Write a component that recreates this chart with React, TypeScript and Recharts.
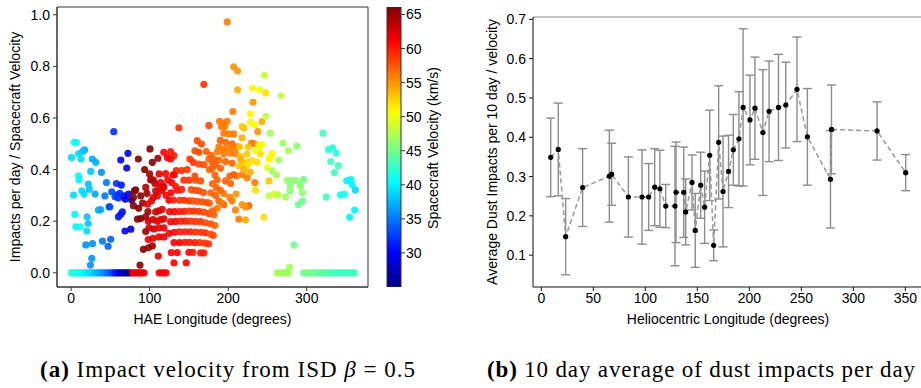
import React from "react";
import {
  ScatterChart,
  Scatter,
  ComposedChart,
  Line,
  BarChart,
  Bar,
  XAxis,
  YAxis,
  ErrorBar,
  ReferenceArea,
  ReferenceLine,
} from "recharts";

// ---- (a) impact rate vs HAE longitude, coloured by spacecraft velocity ----
// each point: [longitude, impacts per day / velocity, velocity km/s]
const zeroRow = [
  [0, 0, 42], [2.5, 0, 42], [5, 0, 42], [7.5, 0, 42], [10, 0, 41], [12.5, 0, 41], [15, 0, 41],
  [17.5, 0, 40], [20, 0, 40], [22.5, 0, 39], [25, 0, 39], [27.5, 0, 39], [30, 0, 38],
  [32.5, 0, 38], [35, 0, 37], [37.5, 0, 37], [40, 0, 36], [42.5, 0, 36], [45, 0, 35],
  [47.5, 0, 35], [50, 0, 34], [52.5, 0, 33], [55, 0, 32], [57.5, 0, 31], [60, 0, 30],
  [62.5, 0, 28], [65, 0, 27], [67.5, 0, 27], [70, 0, 26], [72.5, 0, 26], [75, 0, 25.5],
  [78, 0, 62], [80.5, 0, 62], [83, 0, 62], [85.5, 0, 62], [88, 0, 62], [90.5, 0, 62], [93, 0, 62],
  [112, 0, 61], [115, 0, 61], [118, 0, 61], [121, 0, 61],
  [262, 0, 47], [265, 0, 47], [268, 0, 47], [271, 0, 47], [274, 0, 47], [277, 0, 47],
  [296, 0, 45], [299, 0, 45], [302, 0, 45], [305, 0, 45], [308, 0, 45], [311, 0, 45],
  [314, 0, 44.5], [317, 0, 44.5], [320, 0, 44], [323, 0, 44], [326, 0, 44], [329, 0, 43.5],
  [332, 0, 43.5], [335, 0, 43.5], [338, 0, 43], [341, 0, 43], [344, 0, 43], [347, 0, 43],
  [350, 0, 43], [353, 0, 43], [356, 0, 43], [359, 0, 43], [361, 0, 43],
];

const cyanGroup = [
  [0.5, 0.447, 39], [3.8, 0.506, 41], [6.8, 0.506, 41], [9.4, 0.461, 39], [12.7, 0.441, 39],
  [17, 0.476, 37], [27, 0.441, 37], [31.4, 0.428, 37], [25, 0.393, 38], [38.6, 0.389, 36],
  [45, 0.35, 35], [9.4, 0.376, 41], [10, 0.36, 40], [3, 0.301, 39], [13.6, 0.318, 39],
  [16.5, 0.305, 39], [22, 0.344, 38], [23, 0.324, 38], [30.5, 0.305, 37], [43, 0.298, 35],
  [4.7, 0.227, 40], [20.3, 0.217, 38], [21.6, 0.191, 38], [6, 0.178, 40], [11.4, 0.178, 41],
  [20, 0.162, 39], [34.8, 0.243, 37], [37.7, 0.245, 37], [48.3, 0.256, 34], [18.7, 0.108, 36],
  [27.2, 0.113, 36], [39.9, 0.123, 35], [47, 0.103, 34], [50.4, 0.13, 34], [26.3, 0.056, 36],
  [24.6, 0.03, 36], [14.5, 0.47, 38],
];

const blueGroup = [
  [54.3, 0.547, 32], [72.4, 0.463, 29], [63.2, 0.437, 30], [70.8, 0.406, 29], [57.7, 0.346, 32],
  [64, 0.34, 31], [51.7, 0.314, 33], [56, 0.295, 33], [60.2, 0.29, 32], [66.6, 0.298, 30],
  [73, 0.305, 29], [77.1, 0.282, 27], [49.2, 0.256, 33], [65.3, 0.236, 31], [60.2, 0.217, 31],
  [63.2, 0.227, 31], [68.6, 0.162, 30], [75.9, 0.169, 28], [58.5, 0.302, 33], [62, 0.308, 32],
  [69, 0.285, 28],
];

const darkRedGroup = [
  [100.4, 0.48, 66], [85.6, 0.441, 66], [103.4, 0.428, 66], [110.5, 0.444, 65], [93.6, 0.4, 66],
  [101.3, 0.36, 65], [82.2, 0.321, 66], [88.6, 0.298, 66], [79.3, 0.26, 66], [84.4, 0.208, 66],
  [88.6, 0.21, 66], [95, 0.217, 65], [97.8, 0.237, 65], [106.7, 0.346, 64], [92, 0.091, 66],
  [98.3, 0.097, 65], [103.4, 0.104, 65], [87.7, 0.03, 66], [79.3, 0.292, 66], [94.9, 0.331, 64],
  [99.9, 0.383, 65], [104.6, 0.36, 64], [91, 0.27, 65], [86, 0.25, 66], [95, 0.16, 65],
  [80.5, 0.318, 66], [96.5, 0.308, 65],
];

const redGroup = [
  [104.6, 0.292, 62], [109.7, 0.298, 62], [115.2, 0.318, 62], [118.2, 0.331, 62], [97.4, 0.266, 62],
  [102.5, 0.279, 62], [107.6, 0.236, 63], [111.8, 0.24, 63], [116, 0.246, 62], [98.3, 0.2, 63],
  [104.2, 0.206, 63], [109.7, 0.2, 62], [114, 0.206, 62], [118.2, 0.209, 62], [99.1, 0.174, 63],
  [105.4, 0.17, 63], [111.8, 0.174, 62], [118.2, 0.174, 62], [98.3, 0.129, 62], [104.2, 0.134, 62],
  [111.8, 0.139, 62], [118.2, 0.139, 62], [111, 0.065, 62], [107.6, 0.318, 63], [112.7, 0.327, 62],
  [116.9, 0.337, 62], [122.4, 0.447, 61], [126.7, 0.441, 61], [126.7, 0.47, 60], [130.9, 0.454, 60],
  [120.3, 0.384, 61], [129.6, 0.38, 60], [133.9, 0.396, 60], [124.6, 0.281, 61], [121, 0.3, 61],
  [127, 0.31, 61], [123, 0.36, 61], [128, 0.35, 61], [133, 0.335, 60], [118, 0.467, 61],
  [131, 0.379, 61], [112, 0.383, 62], [114, 0.35, 62],
];

const arcGroup = [
  [125.4, 0.237, 61], [131.8, 0.237, 61], [138.1, 0.237, 60], [144, 0.238, 60], [150.4, 0.239, 59],
  [156.3, 0.239, 59], [162.7, 0.238, 59], [169, 0.235, 58], [175.4, 0.23, 58], [181.8, 0.225, 57],
  [126.7, 0.198, 61], [133, 0.199, 61], [139.4, 0.2, 60], [145.8, 0.2, 60], [152.1, 0.2, 59],
  [158.4, 0.199, 59], [164.8, 0.198, 59], [171.1, 0.194, 58], [177.5, 0.19, 58], [183, 0.184, 57],
  [124.6, 0.153, 61], [131.4, 0.157, 61], [138.1, 0.159, 60], [144.9, 0.159, 60], [151.7, 0.159, 60],
  [158.4, 0.158, 59], [165.2, 0.157, 59], [171.1, 0.155, 59], [177.5, 0.15, 58], [181, 0.145, 58],
  [130.9, 0.117, 61], [138.1, 0.117, 61], [144.9, 0.118, 60], [150.8, 0.118, 60], [157.6, 0.117, 60],
  [163.5, 0.117, 59], [170, 0.115, 59], [175, 0.112, 59],
  [127.5, 0.078, 61], [135.1, 0.078, 61], [150, 0.079, 61], [155, 0.079, 60], [164.8, 0.077, 60],
  [169, 0.077, 60], [130.9, 0.039, 61], [146.6, 0.039, 61],
  [138, 0.281, 59], [144, 0.281, 59], [150, 0.279, 59], [155, 0.279, 58], [160.6, 0.277, 58],
  [166.9, 0.275, 58], [173.3, 0.272, 58], [130, 0.282, 60],
  [135.1, 0.32, 60], [140.7, 0.323, 60], [152.9, 0.322, 58], [158.4, 0.32, 58], [162.7, 0.318, 58],
  [168.6, 0.311, 58], [143.6, 0.359, 59], [150, 0.359, 59], [158.4, 0.359, 58], [164.8, 0.356, 58],
  [157.6, 0.375, 58], [140.7, 0.396, 59], [147.8, 0.4, 59], [162.7, 0.421, 58], [169, 0.419, 58],
  [175.4, 0.441, 57], [179.6, 0.428, 57], [151.2, 0.441, 59], [155.5, 0.428, 59], [157.6, 0.473, 58],
  [162.7, 0.467, 58], [160.6, 0.512, 58], [166, 0.499, 58], [137.2, 0.562, 59], [175.4, 0.571, 58],
];

const orangeGroup = [
  [198.7, 0.972, 56], [207, 0.798, 55], [212, 0.782, 55], [169, 0.73, 59], [212, 0.709, 54],
  [205.9, 0.625, 56], [189, 0.587, 56], [193, 0.58, 56], [198.6, 0.587, 56], [195.8, 0.567, 56],
  [191.5, 0.567, 56], [217.8, 0.567, 53], [220, 0.561, 53], [243, 0.586, 54], [237.6, 0.547, 55],
  [231.7, 0.661, 55], [194.4, 0.541, 56], [200.7, 0.538, 56], [207, 0.538, 56], [217.8, 0.523, 54],
  [190, 0.513, 57], [196.6, 0.506, 57], [205, 0.5, 57], [188.1, 0.488, 56], [192.3, 0.478, 56],
  [198.7, 0.482, 56], [206.3, 0.488, 56], [211.3, 0.488, 56], [229.6, 0.503, 56], [233.4, 0.5, 56],
  [186, 0.469, 56], [194.5, 0.46, 56], [203, 0.464, 56], [209.3, 0.462, 56], [188, 0.437, 57],
  [196.6, 0.431, 57], [205, 0.425, 57], [183.9, 0.418, 57], [190.2, 0.405, 57], [179.6, 0.405, 57],
  [224.1, 0.368, 56], [217.7, 0.381, 56], [210.6, 0.375, 56], [202, 0.375, 57], [207, 0.381, 57],
  [196.6, 0.356, 57], [203, 0.346, 57], [194.5, 0.307, 56], [202, 0.292, 56], [210, 0.305, 55],
  [205, 0.279, 56], [209.3, 0.243, 56], [217.7, 0.264, 55], [226.2, 0.26, 57], [222, 0.254, 55],
  [213.5, 0.208, 56], [222, 0.205, 54], [188, 0.279, 57], [194.5, 0.264, 57], [233.8, 0.35, 56],
  [172, 0.47, 57], [178, 0.455, 57], [182, 0.44, 57], [176, 0.4, 57], [183, 0.38, 57],
  [186, 0.36, 57], [180, 0.345, 57], [185, 0.33, 57], [178, 0.31, 57], [184, 0.3, 57],
  [190, 0.32, 57], [176, 0.27, 57], [186, 0.25, 56], [180, 0.24, 57], [192, 0.27, 56],
];

const yellowGroup = [
  [231, 0.716, 51], [240, 0.709, 50], [248, 0.697, 52], [228.3, 0.616, 51], [228.3, 0.584, 51],
  [233.4, 0.574, 51], [214.8, 0.488, 53], [225.4, 0.488, 53], [238.9, 0.494, 51], [243, 0.497, 51],
  [215.6, 0.451, 53], [224, 0.46, 53], [234.7, 0.474, 50], [240.2, 0.488, 50], [241, 0.46, 52],
  [214, 0.414, 53], [219.8, 0.425, 53], [225.8, 0.428, 53], [224, 0.418, 52], [230.6, 0.435, 52],
  [237, 0.428, 52], [249.8, 0.408, 50], [251.9, 0.356, 53], [234.7, 0.321, 52], [245.3, 0.216, 52],
  [253.7, 0.45, 50], [252.4, 0.44, 51], [255.8, 0.462, 51], [220, 0.4, 54], [228, 0.39, 54],
  [216, 0.44, 54],
];

const greenGroup = [
  [246.3, 0.766, 48], [267.3, 0.686, 48], [248.2, 0.606, 48], [253.7, 0.541, 47], [269.5, 0.503, 47],
  [276.7, 0.474, 47], [287.3, 0.491, 46], [264.3, 0.437, 47], [255.9, 0.395, 47], [261.5, 0.379, 47],
  [275, 0.358, 47], [280, 0.356, 46], [285.8, 0.358, 46], [290.9, 0.349, 46], [296, 0.362, 45],
  [279, 0.336, 46], [292, 0.336, 46], [278.7, 0.317, 46], [294.4, 0.31, 46], [252, 0.298, 48],
  [258.4, 0.305, 49], [263.4, 0.302, 48], [273.2, 0.294, 47], [294.4, 0.279, 45], [289.3, 0.264, 45],
  [283.9, 0.108, 45], [278.3, 0.022, 47],
];

const aquaGroup = [
  [320.6, 0.541, 43], [327.8, 0.478, 42], [332.9, 0.484, 42], [337.6, 0.464, 42], [330.6, 0.431, 43],
  [340.3, 0.415, 43], [335.3, 0.388, 43], [350.9, 0.357, 40], [356.4, 0.361, 40], [361.9, 0.321, 39],
  [357.6, 0.342, 40], [342.8, 0.302, 41], [347.9, 0.305, 41], [324.8, 0.294, 43], [361, 0.243, 40],
  [354.6, 0.216, 40],
];

const haeTicks = [0, 100, 200, 300];
const rateTicks = [0, 0.2, 0.4, 0.6, 0.8, 1.0];
const velTicks = [30, 35, 40, 45, 50, 55, 60, 65];
const velRange = [25, 66.1];

// ---- (b) 10 day averages ----
const helioLon = [
  9, 16.3, 23.4, 39.7, 65.4, 67.6, 83.7, 96.8, 103.2, 109, 114, 119.6, 128.5, 129.5, 136.9, 138.8,
  144.9, 148, 153.2, 157, 161.9, 165.7, 170.5, 174.7, 180, 184.6, 190, 194, 200.6, 205.4, 213, 219,
  228, 235, 245.8, 255.8, 278, 279, 322.8, 350.3,
];
const avgImpacts = [
  0.349, 0.369, 0.147, 0.272, 0.301, 0.306, 0.248, 0.248, 0.248, 0.273, 0.269, 0.225, 0.225, 0.26,
  0.26, 0.21, 0.285, 0.163, 0.278, 0.222, 0.354, 0.125, 0.387, 0.262, 0.313, 0.368, 0.396, 0.476,
  0.444, 0.474, 0.412, 0.466, 0.476, 0.482, 0.522, 0.401, 0.293, 0.42, 0.416, 0.31,
];
const avgErr = [
  0.1, 0.118, 0.097, 0.099, 0.117, 0.079, 0.102, 0.12, 0.085, 0.098, 0.098, 0.055, 0.152, 0.128,
  0.115, 0.084, 0.07, 0.094, 0.084, 0.092, 0.115, 0.039, 0.144, 0.141, 0.092, 0.09, 0.12, 0.2,
  0.114, 0.13, 0.16, 0.128, 0.135, 0.109, 0.133, 0.123, 0.124, 0.113, 0.074, 0.046,
];
const helioTicks = [0, 50, 100, 150, 200, 250, 300, 350];
const avgTicks = [0.1, 0.2, 0.3, 0.4, 0.5, 0.6, 0.7];

// matplotlib jet, approximately
const clip = (a: number) => Math.max(0, Math.min(1, a));
function jetRgb(t: number) {
  const r = clip(1.5 - Math.abs(4 * t - 3));
  const g = clip(1.5 - Math.abs(4 * t - 2));
  const b = clip(1.5 - Math.abs(4 * t - 1));
  return `rgb(${Math.round(r * 255)},${Math.round(g * 255)},${Math.round(b * 255)})`;
}
const velColor = (v: number) => jetRgb((v - velRange[0]) / (velRange[1] - velRange[0]));

const scatterRows = [
  ...zeroRow, ...cyanGroup, ...blueGroup, ...darkRedGroup, ...redGroup,
  ...arcGroup, ...orangeGroup, ...yellowGroup, ...greenGroup, ...aquaGroup,
].map(([x, y, v]) => ({ x, y, v }));

const helioRows = helioLon.map((x, i) => ({ x, y: avgImpacts[i], err: avgErr[i] }));

const FONT = '"Liberation Sans", Arial, sans-serif';
const tickStyle = { fill: "#000", fontSize: 14, fontFamily: FONT };

const VelDot = (p: any) => (
  <circle cx={p.cx} cy={p.cy} r={3.6} fill={velColor(p.payload.v)} fillOpacity={0.9} />
);
const BlackDot = (p: any) => <circle cx={p.cx} cy={p.cy} r={2.6} fill="#000" />;

export default function App() {
  return (
    <div
      style={{
        position: "absolute",
        left: 0,
        top: 0,
        width: 921,
        height: 388,
        overflow: "hidden",
        background: "#fff",
      }}
    >
      <div style={{ position: "absolute", left: 0, top: 0 }}>
        <ScatterChart width={380} height={330} margin={{ top: 7, right: 12, left: 12, bottom: 13 }}>
          <XAxis
            type="number"
            dataKey="x"
            domain={[-18, 378]}
            ticks={haeTicks}
            allowDataOverflow
            height={30}
            tick={tickStyle}
            tickSize={4}
            tickMargin={2}
            stroke="#333"
          />
          <YAxis
            type="number"
            dataKey="y"
            domain={[-0.055, 1.03]}
            ticks={rateTicks}
            allowDataOverflow
            width={45}
            tick={tickStyle}
            tickSize={4}
            tickMargin={3}
            tickFormatter={(v: number) => v.toFixed(1)}
            stroke="#333"
          />
          <ReferenceArea
            x1={-18}
            x2={378}
            y1={-0.055}
            y2={1.03}
            fill="none"
            stroke="#333"
            strokeWidth={1}
            ifOverflow="visible"
          />
          <Scatter data={scatterRows} shape={VelDot} isAnimationActive={false} />
        </ScatterChart>
      </div>

      <div style={{ position: "absolute", left: 380, top: 0 }}>
        <BarChart
          width={60}
          height={330}
          data={[{ name: "v", range: velRange }]}
          margin={{ top: 7, right: 9, left: 7, bottom: 43 }}
          barCategoryGap={0}
        >
          <defs>
            <linearGradient id="jetGrad" x1="0" y1="1" x2="0" y2="0">
              {[0, 0.125, 0.375, 0.625, 0.875, 1].map((t) => (
                <stop key={t} offset={t} stopColor={jetRgb(t)} />
              ))}
            </linearGradient>
          </defs>
          <XAxis dataKey="name" hide />
          <YAxis
            orientation="right"
            type="number"
            domain={velRange}
            ticks={velTicks}
            allowDataOverflow
            width={30}
            tick={tickStyle}
            tickSize={4}
            tickMargin={1}
            axisLine={false}
            stroke="#333"
          />
          <Bar dataKey="range" fill="url(#jetGrad)" stroke="#333" isAnimationActive={false} />
        </BarChart>
      </div>

      <div style={{ position: "absolute", left: 460, top: 0 }}>
        <ComposedChart
          width={462}
          height={330}
          data={helioRows}
          margin={{ top: 17, right: 0, left: 30, bottom: 13 }}
        >
          <XAxis
            type="number"
            dataKey="x"
            domain={[-8, 366]}
            ticks={helioTicks}
            allowDataOverflow
            height={30}
            tick={tickStyle}
            tickSize={4}
            tickMargin={2}
            stroke="#111"
          />
          <YAxis
            type="number"
            domain={[0.019, 0.706]}
            ticks={avgTicks}
            allowDataOverflow
            width={43}
            tick={tickStyle}
            tickSize={4}
            tickMargin={3}
            tickFormatter={(v: number) => v.toFixed(1)}
            stroke="#111"
          />
          <ReferenceLine y={0.706} stroke="#888" ifOverflow="visible" />
          <Line
            dataKey="y"
            stroke="#9a9a9a"
            strokeWidth={1.5}
            strokeDasharray="5 3"
            dot={false}
            isAnimationActive={false}
          >
            <ErrorBar dataKey="err" direction="y" width={4.5} stroke="#8c8c8c" strokeWidth={1.4} />
          </Line>
          <Scatter dataKey="y" shape={BlackDot} isAnimationActive={false} />
        </ComposedChart>
      </div>

      <svg
        width={921}
        height={388}
        style={{ position: "absolute", left: 0, top: 0, pointerEvents: "none" }}
      >
        <g fontFamily={FONT} fontSize={14} fill="#000" textAnchor="middle">
          <text x={15} y={147} dominantBaseline="central" transform="rotate(-90 15 147)">
            Impacts per day / Spacecraft Velocity
          </text>
          <text x={212.5} y={319} dominantBaseline="central">
            HAE Longitude (degrees)
          </text>
          <text x={433} y={148} dominantBaseline="central" transform="rotate(-90 433 148)">
            Spacecraft Velocity (km/s)
          </text>
          <text x={492} y={152} dominantBaseline="central" transform="rotate(-90 492 152)">
            Average Dust Impacts per 10 day / velocity
          </text>
          <text x={728} y={319} dominantBaseline="central">
            Heliocentric Longitude (degrees)
          </text>
        </g>
        <g fontFamily='"Liberation Serif", "Times New Roman", serif' fontSize={23} fill="#000">
          <text x={40} y={377} textLength={375} lengthAdjust="spacing">
            <tspan fontWeight="bold">(a)</tspan> Impact velocity from ISD{" "}
            <tspan fontStyle="italic">β</tspan> = 0.5
          </text>
          <text x={487} y={377} textLength={428} lengthAdjust="spacing">
            <tspan fontWeight="bold">(b)</tspan> 10 day average of dust impacts per day
          </text>
        </g>
      </svg>
    </div>
  );
}
